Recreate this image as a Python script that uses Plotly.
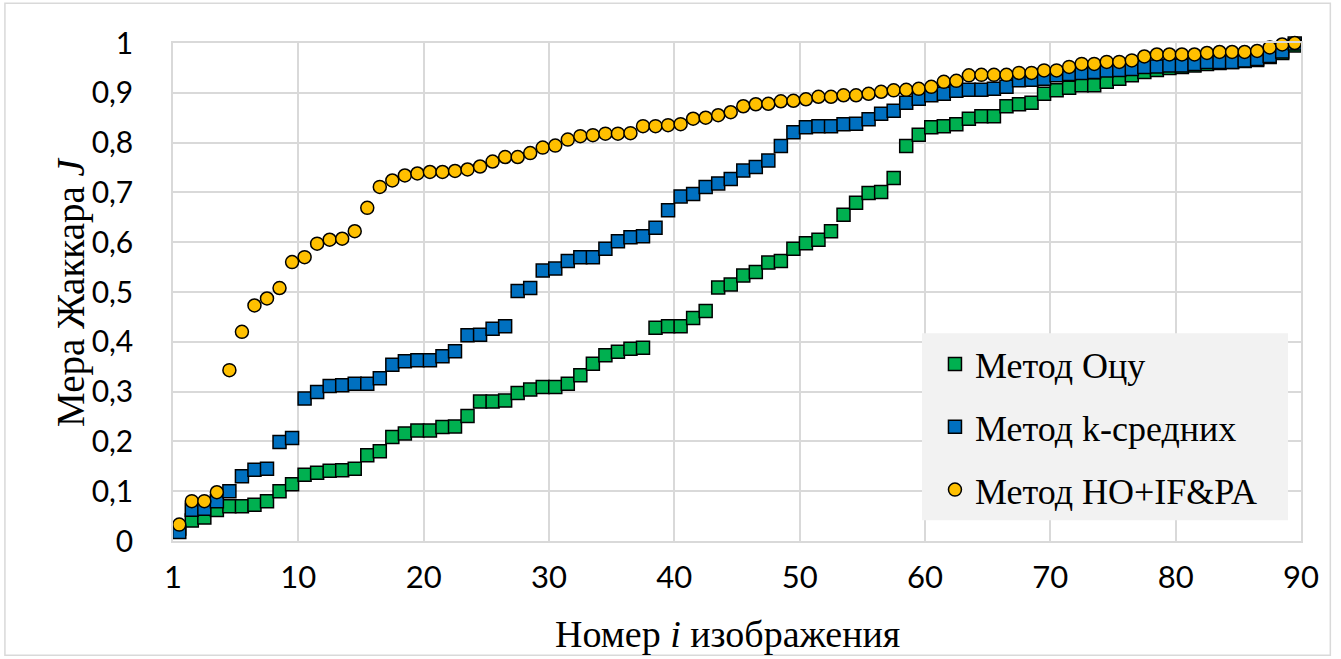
import plotly.graph_objects as go

# ---- data ----
image_no = list(range(1, 91))

otsu = [0.025, 0.041, 0.047, 0.062, 0.070, 0.070, 0.073, 0.080, 0.100, 0.114,
        0.133, 0.137, 0.141, 0.142, 0.145, 0.172, 0.180, 0.209, 0.216, 0.222,
        0.222, 0.229, 0.230, 0.251, 0.280, 0.280, 0.282, 0.297, 0.304, 0.309,
        0.309, 0.316, 0.333, 0.356, 0.373, 0.380, 0.386, 0.388, 0.428, 0.431,
        0.431, 0.448, 0.462, 0.509, 0.515, 0.533, 0.540, 0.559, 0.562, 0.587,
        0.598, 0.605, 0.622, 0.655, 0.679, 0.699, 0.701, 0.729, 0.793, 0.816,
        0.831, 0.833, 0.837, 0.848, 0.853, 0.853, 0.873, 0.877, 0.880, 0.898,
        0.905, 0.910, 0.915, 0.915, 0.922, 0.928, 0.935, 0.942, 0.946, 0.950,
        0.952, 0.955, 0.958, 0.960, 0.962, 0.964, 0.966, 0.972, 0.980, 0.995]

kmeans = [0.018, 0.063, 0.065, 0.080, 0.100, 0.130, 0.143, 0.145, 0.199, 0.207,
          0.286, 0.299, 0.311, 0.313, 0.316, 0.316, 0.327, 0.354, 0.361, 0.363,
          0.363, 0.371, 0.381, 0.413, 0.414, 0.426, 0.431, 0.502, 0.508, 0.543,
          0.547, 0.562, 0.570, 0.570, 0.587, 0.602, 0.610, 0.612, 0.629, 0.664,
          0.692, 0.697, 0.711, 0.718, 0.727, 0.744, 0.751, 0.764, 0.793, 0.821,
          0.831, 0.833, 0.833, 0.837, 0.838, 0.847, 0.858, 0.864, 0.880, 0.888,
          0.895, 0.898, 0.904, 0.906, 0.906, 0.908, 0.912, 0.925, 0.926, 0.928,
          0.935, 0.938, 0.940, 0.942, 0.945, 0.946, 0.948, 0.952, 0.953, 0.955,
          0.955, 0.958, 0.962, 0.962, 0.962, 0.965, 0.968, 0.974, 0.983, 0.999]

hoifpa = [0.033, 0.080, 0.080, 0.098, 0.343, 0.420, 0.473, 0.487, 0.508, 0.560,
          0.570, 0.597, 0.605, 0.607, 0.622, 0.669, 0.711, 0.724, 0.734, 0.738,
          0.741, 0.741, 0.743, 0.746, 0.752, 0.762, 0.771, 0.771, 0.779, 0.790,
          0.794, 0.806, 0.813, 0.815, 0.818, 0.818, 0.819, 0.833, 0.833, 0.835,
          0.837, 0.848, 0.850, 0.855, 0.861, 0.873, 0.877, 0.878, 0.883, 0.884,
          0.887, 0.892, 0.892, 0.895, 0.895, 0.898, 0.902, 0.905, 0.906, 0.908,
          0.912, 0.922, 0.924, 0.935, 0.936, 0.936, 0.936, 0.940, 0.940, 0.945,
          0.945, 0.952, 0.958, 0.958, 0.962, 0.962, 0.965, 0.973, 0.977, 0.977,
          0.977, 0.977, 0.980, 0.982, 0.982, 0.982, 0.984, 0.991, 0.997, 1.000]

series_names = ["Метод Оцу", "Метод k-средних", "Метод HO+IF&amp;PA"]

x_tick_vals = [0, 10, 20, 30, 40, 50, 60, 70, 80, 90]
x_tick_text = ["1", "10", "20", "30", "40", "50", "60", "70", "80", "90"]
y_tick_vals = [0, 0.1, 0.2, 0.3, 0.4, 0.5, 0.6, 0.7, 0.8, 0.9, 1.0]
y_tick_text = ["0", "0,1", "0,2", "0,3", "0,4", "0,5", "0,6", "0,7", "0,8", "0,9", "1"]

# categories are centred in their slots (Excel category-style axis)
xpos = [i - 0.5 for i in image_no]

fig = go.Figure()
styles = [
    dict(symbol="square", color="#00B050", size=13),
    dict(symbol="square", color="#0070C0", size=13),
    dict(symbol="circle", color="#FFC000", size=13),
]
for name, vals, st, grp in zip(series_names, [otsu, kmeans, hoifpa], styles, ["a", "b", "c"]):
    fig.add_trace(go.Scatter(
        x=xpos, y=vals, mode="markers", name=name, legendgroup=grp,
        marker=dict(symbol=st["symbol"], color=st["color"], size=st["size"],
                    line=dict(color="black", width=1.5)),
        cliponaxis=False,
    ))

serif = "Liberation Serif, Times New Roman, serif"
sans = "Lato, Carlito, Calibri, sans-serif"

fig.update_layout(
    width=1341, height=659,
    margin=dict(l=173, r=40, t=43, b=118),
    paper_bgcolor="white", plot_bgcolor="white",
    showlegend=True,
    legend=dict(
        x=0.6755, xanchor="left", y=0.042, yanchor="bottom",
        bgcolor="rgba(0,0,0,0)", borderwidth=0,
        font=dict(family=serif, size=36, color="black"),
        tracegroupgap=13,
    ),
    xaxis=dict(
        range=[0, 90], tickvals=x_tick_vals, ticktext=x_tick_text,
        showgrid=True, gridcolor="#D9D9D9", gridwidth=1.5,
        showline=True, linecolor="#D9D9D9", linewidth=1.5, mirror=True,
        zeroline=False, ticks="", ticklabelstandoff=8,
        tickfont=dict(family=sans, size=31, color="black"),
    ),
    yaxis=dict(
        range=[0, 1], tickvals=y_tick_vals, ticktext=y_tick_text,
        showgrid=True, gridcolor="#D9D9D9", gridwidth=1.5,
        showline=True, linecolor="#D9D9D9", linewidth=1.5, mirror=True,
        zeroline=False, ticks="", ticklabelstandoff=32,
        tickfont=dict(family=sans, size=30, color="black"),
    ),
    annotations=[
        dict(text="Номер <i>i</i> изображения", xref="paper", yref="paper",
             x=0.492, y=-0.187, xanchor="center", yanchor="middle", showarrow=False,
             font=dict(family=serif, size=38, color="black")),
        dict(text="Мера Жаккара <i>J</i>", xref="paper", yref="paper",
             x=-0.0905, y=0.5, xanchor="center", yanchor="middle", showarrow=False,
             textangle=-90, font=dict(family=serif, size=39, color="black")),
    ],
    shapes=[
        dict(type="rect", xref="paper", yref="paper",
             x0=-0.149, x1=1.026, y0=-0.2295, y1=1.0797,
             line=dict(color="#D9D9D9", width=1.5), layer="below"),
        dict(type="rect", xref="paper", yref="paper",
             x0=0.664, x1=0.9885, y0=0.0416, y1=0.417,
             line=dict(width=0), fillcolor="#F2F2F2", layer="above"),
    ],
)

fig.write_html("out.html", config={"displayModeBar": False},
               post_script="document.body.style.margin='0px';")
